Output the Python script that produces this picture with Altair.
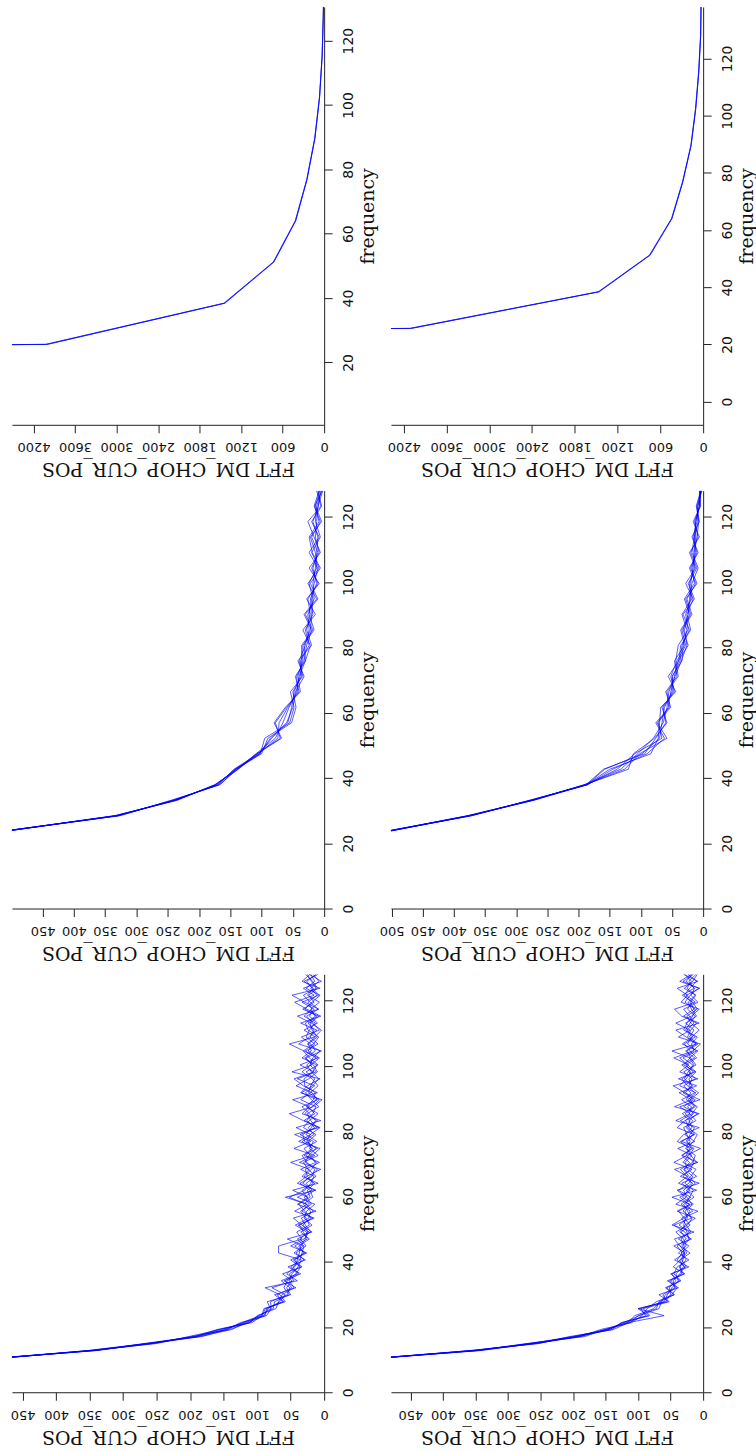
import altair as alt
import pandas as pd

# ---------------- data ----------------
ROW1_FREQ = [12.8, 25.6, 38.4, 51.2, 64.0, 76.8, 89.6, 102.4, 115.2, 128.0, 140.8]
ROW1_LEFT = [
    [90000, 4010, 1440, 730, 414, 250, 135, 67, 29, 12, 5],
    [90000, 4030, 1450, 735, 418, 252, 137, 68, 30, 13, 5],
    [90000, 3995, 1432, 726, 410, 247, 133, 65, 28, 11, 4],
]
ROW1_RIGHT = [
    [92000, 4105, 1465, 749, 440, 287, 170, 105, 62, 35, 28],
    [92000, 4120, 1472, 754, 444, 290, 172, 107, 64, 36, 29],
    [92000, 4090, 1458, 744, 437, 284, 168, 103, 60, 34, 27],
]

ROW2_FREQ = [round(k * 128 / 27, 3) for k in range(5, 28)]
ROW2_LEFT = [
    [512, 332, 238, 172, 142, 104, 84, 58, 52, 48, 38, 36, 36, 18, 30, 10, 22, 6, 19, 24, 8, 15, 3],
    [508, 328, 242, 168, 138, 108, 70, 78, 60, 40, 46, 30, 22, 34, 14, 28, 8, 24, 6, 16, 26, 5, 12],
    [511, 334, 236, 174, 140, 102, 95, 55, 48, 54, 34, 40, 30, 24, 26, 16, 18, 14, 12, 10, 18, 9, 6],
    [509, 330, 240, 170, 144, 106, 74, 72, 58, 42, 44, 32, 28, 20, 32, 12, 26, 8, 20, 6, 14, 12, 4],
    [513, 326, 244, 166, 141, 100, 90, 52, 45, 50, 36, 38, 24, 30, 18, 22, 12, 18, 10, 20, 6, 16, 8],
    [507, 335, 234, 175, 137, 107, 68, 80, 62, 38, 42, 34, 34, 16, 24, 20, 16, 10, 24, 8, 20, 4, 10],
    [510, 331, 239, 169, 143, 103, 86, 60, 50, 46, 32, 42, 20, 28, 22, 26, 10, 20, 8, 14, 12, 10, 2],
    [512, 329, 237, 173, 139, 109, 78, 66, 56, 44, 40, 30, 32, 22, 20, 18, 24, 12, 14, 22, 4, 14, 7],
]
ROW2_RIGHT = [
    [506, 372, 278, 186, 158, 98, 70, 66, 62, 50, 49, 37, 34, 22, 32, 14, 24, 10, 20, 8, 14, 5, 4],
    [503, 376, 272, 190, 120, 112, 78, 58, 66, 46, 52, 42, 28, 34, 18, 26, 12, 22, 8, 18, 6, 10, 3],
    [507, 374, 276, 185, 145, 90, 62, 76, 54, 58, 40, 44, 40, 24, 28, 20, 22, 14, 15, 12, 12, 6, 5],
    [504, 378, 273, 191, 132, 105, 80, 64, 58, 55, 45, 35, 26, 30, 22, 30, 14, 18, 12, 14, 8, 9, 2],
    [505, 371, 277, 187, 150, 84, 72, 70, 68, 44, 56, 39, 36, 20, 26, 16, 28, 12, 22, 6, 16, 4, 6],
    [506, 377, 274, 189, 126, 102, 58, 74, 52, 60, 42, 46, 30, 36, 20, 28, 10, 20, 10, 16, 10, 8, 3],
    [502, 373, 275, 188, 160, 94, 76, 60, 64, 48, 50, 34, 32, 26, 34, 18, 20, 16, 14, 10, 7, 11, 4],
    [508, 375, 271, 186, 138, 110, 66, 72, 56, 52, 46, 40, 24, 32, 24, 22, 18, 8, 18, 14, 12, 6, 5],
]

ROW3_FREQ = [round(k * 128 / 60, 3) for k in range(5, 61)]
ROW3_LEFT = [
    [474, 350, 262, 188, 150, 120, 90, 84,
     66, 58, 78, 45, 52, 36, 44, 30,
     38, 22, 35, 18, 30, 26, 14, 40,
     18, 27, 12, 24, 31, 9, 22, 16,
     36, 11, 20, 25, 8, 19, 28, 14,
     40, 12, 21, 17, 6, 25, 13, 30,
     10, 22, 15, 33, 8, 18, 26, 12],
    [470, 342, 255, 198, 142, 112, 98, 76,
     74, 52, 60, 55, 38, 47, 30, 42,
     27, 36, 24, 32, 20, 29, 38, 21,
     25, 14, 30, 19, 11, 27, 17, 33,
     15, 24, 10, 29, 18, 7, 23, 20,
     14, 27, 9, 22, 31, 16, 8, 24,
     28, 13, 20, 7, 25, 16, 30, 9],
    [476, 347, 250, 202, 155, 108, 92, 88,
     62, 70, 48, 58, 42, 35, 50, 28,
     44, 25, 31, 37, 17, 33, 22, 30,
     14, 32, 21, 10, 28, 23, 12, 26,
     21, 6, 30, 14, 25, 11, 34, 17,
     8, 19, 26, 12, 28, 9, 21, 15,
     24, 11, 29, 18, 6, 27, 14, 20],
    [468, 352, 265, 182, 145, 125, 86, 79,
     80, 55, 51, 64, 40, 50, 36, 33,
     30, 40, 20, 28, 34, 16, 27, 52,
     29, 20, 15, 35, 13, 21, 30, 11,
     27, 19, 13, 22, 33, 10, 18, 42,
     23, 10, 16, 29, 13, 20, 34, 7,
     17, 26, 9, 21, 31, 12, 19, 25],
    [473, 338, 268, 192, 160, 110, 100, 72,
     68, 63, 45, 52, 48, 39, 34, 68,
     68, 33, 41, 22, 27, 35, 19, 26,
     33, 16, 25, 28, 7, 30, 19, 24,
     12, 31, 22, 9, 27, 16, 13, 29,
     30, 17, 11, 33, 19, 24, 10, 18,
     21, 8, 32, 15, 23, 10, 17, 28],
    [471, 344, 256, 186, 138, 117, 93, 90,
     58, 66, 88, 40, 56, 44, 40, 37,
     35, 28, 26, 43, 23, 20, 31, 17,
     21, 36, 18, 14, 26, 33, 10, 29,
     32, 14, 26, 17, 12, 35, 21, 9,
     18, 33, 20, 7, 24, 14, 27, 22,
     13, 30, 18, 24, 11, 20, 8, 16],
    [469, 346, 260, 194, 146, 122, 96, 80,
     85, 50, 56, 48, 62, 33, 46, 26,
     50, 30, 22, 39, 15, 44, 25, 58,
     12, 40, 26, 5, 37, 14, 45, 20,
     44, 8, 31, 52, 16, 3, 35, 25,
     6, 48, 18, 27, 4, 38, 22, 11,
     35, 5, 26, 44, 15, 31, 4, 22],
    [475, 340, 264, 190, 157, 114, 88, 86,
     60, 74, 42, 60, 35, 54, 28, 45,
     31, 55, 18, 33, 46, 12, 40, 24,
     47, 9, 33, 22, 50, 18, 6, 38,
     20, 42, 5, 33, 22, 47, 10, 31,
     45, 15, 36, 9, 30, 52, 14, 4,
     19, 40, 8, 29, 48, 6, 33, 21],
]
ROW3_RIGHT = [
    [486, 352, 266, 200, 145, 118, 88, 96,
     60, 55, 48, 38, 42, 30, 36, 25,
     32, 20, 28, 45, 18, 24, 30, 14,
     26, 12, 22, 30, 10, 19, 25, 15,
     9, 24, 16, 28, 12, 20, 7, 22,
     17, 30, 11, 19, 25, 8, 21, 14,
     27, 10, 18, 23, 12, 29, 16, 9],
    [482, 346, 258, 188, 158, 112, 100, 72,
     68, 48, 40, 50, 30, 37, 26, 34,
     22, 38, 19, 26, 33, 16, 27, 21,
     15, 28, 19, 11, 31, 22, 14, 26,
     20, 13, 35, 17, 9, 26, 19, 30,
     12, 22, 16, 31, 10, 24, 18, 6,
     19, 25, 9, 16, 32, 14, 22, 11],
    [488, 355, 255, 195, 140, 126, 84, 100,
     55, 62, 44, 46, 36, 28, 40, 32,
     40, 26, 34, 20, 29, 38, 17, 25,
     30, 18, 25, 35, 16, 12, 27, 20,
     25, 30, 11, 21, 18, 33, 13, 24,
     33, 15, 27, 10, 20, 29, 12, 25,
     14, 21, 30, 8, 19, 13, 26, 17],
    [484, 348, 270, 182, 152, 110, 94, 86,
     72, 44, 56, 34, 45, 40, 22, 38,
     26, 30, 42, 24, 17, 31, 22, 36,
     20, 33, 10, 24, 28, 17, 39, 13,
     28, 17, 22, 9, 30, 15, 27, 18,
     22, 11, 24, 36, 14, 18, 9, 30,
     25, 16, 12, 28, 20, 7, 31, 15],
    [485, 340, 262, 192, 148, 122, 98, 68,
     64, 58, 42, 52, 33, 35, 31, 28,
     35, 22, 25, 30, 27, 20, 34, 19,
     38, 22, 16, 29, 21, 33, 18, 24,
     16, 26, 20, 32, 14, 23, 11, 36,
     26, 19, 33, 13, 27, 11, 24, 19,
     10, 30, 14, 20, 11, 25, 18, 28],
    [483, 358, 252, 205, 138, 115, 60, 100,
     58, 50, 52, 42, 48, 26, 33, 30,
     29, 34, 21, 37, 24, 28, 15, 32,
     23, 16, 31, 20, 14, 26, 21, 35,
     13, 21, 27, 15, 24, 12, 31, 16,
     29, 23, 14, 21, 8, 32, 16, 27,
     20, 12, 24, 17, 29, 21, 10, 23],
    [487, 350, 260, 198, 150, 116, 105, 76,
     66, 45, 58, 36, 50, 22, 44, 28,
     45, 18, 36, 28, 12, 40, 20, 48,
     10, 38, 24, 44, 8, 32, 16, 40,
     30, 6, 42, 20, 36, 5, 28, 46,
     8, 36, 22, 45, 16, 4, 38, 20,
     42, 18, 6, 34, 24, 40, 8, 30],
    [481, 344, 268, 190, 144, 124, 82, 92,
     52, 68, 38, 55, 28, 46, 35, 20,
     36, 44, 14, 48, 30, 8, 42, 26,
     40, 6, 35, 17, 45, 25, 4, 33,
     14, 40, 28, 6, 44, 18, 37, 10,
     38, 12, 30, 20, 48, 10, 26, 42,
     6, 33, 44, 12, 26, 5, 36, 18],
]

FFT_TICKS_BIG = [0, 600, 1200, 1800, 2400, 3000, 3600, 4200]
FFT_TICKS_450 = [0, 50, 100, 150, 200, 250, 300, 350, 400, 450]
FFT_TICKS_500 = [0, 50, 100, 150, 200, 250, 300, 350, 400, 450, 500]
FREQ_TICKS_20 = [20, 40, 60, 80, 100, 120]
FREQ_TICKS_0 = [0, 20, 40, 60, 80, 100, 120]

X_TITLE = "FFT DM_CHOP_CUR_POS"
Y_TITLE = "frequency"

W = 313
H = 419


def make_df(freq, series):
    rows = []
    for i, vals in enumerate(series):
        for f, v in zip(freq, vals):
            rows.append({"freq": f, "value": v, "series": i})
    return pd.DataFrame(rows)


def panel(freq, series, xdom, xticks, ydom, yticks):
    xaxis = alt.Axis(
        orient="bottom", values=xticks, title=X_TITLE, grid=False, format="d",
        tickSize=8, labelPadding=10, labelAngle=180, labelAlign="center",
        labelBaseline="alphabetic", labelFlush=False, labelOverlap=False,
        labelFont="DejaVu Sans", labelFontSize=13,
        titleFont="DejaVu Serif", titleFontSize=19, titleFontWeight="normal",
        titleAngle=180, titleAlign="center", titleBaseline="alphabetic",
        titleX=W / 2, titleY=38,
    )
    yaxis = alt.Axis(
        orient="right", values=yticks, title=Y_TITLE, grid=False, format="d",
        tickSize=8, labelPadding=20, labelAngle=270, labelAlign="center",
        labelBaseline="alphabetic", labelFlush=False, labelOverlap=False,
        labelFont="DejaVu Sans", labelFontSize=14,
        titleFont="DejaVu Serif", titleFontSize=19, titleFontWeight="normal",
        titleAngle=270, titleAlign="center", titleBaseline="alphabetic",
        titleX=49, titleY=H / 2,
    )
    return alt.Chart(make_df(freq, series)).mark_line(
        clip=True, color="#0000ff", strokeWidth=1, opacity=0.65
    ).encode(
        x=alt.X("value:Q", scale=alt.Scale(domain=xdom, reverse=True, nice=False, zero=False), axis=xaxis),
        y=alt.Y("freq:Q", scale=alt.Scale(domain=ydom, nice=False, zero=False), axis=yaxis),
        detail="series:N",
        order="freq:Q",
    ).properties(width=W, height=H)


p1 = panel(ROW1_FREQ, ROW1_LEFT, [0, 4512], FFT_TICKS_BIG, [0.6, 130.5], FREQ_TICKS_20)
p2 = panel(ROW1_FREQ, ROW1_RIGHT, [0, 4380], FFT_TICKS_BIG, [-8.1, 138], FREQ_TICKS_0)
p3 = panel(ROW2_FREQ, ROW2_LEFT, [0, 499], FFT_TICKS_450, [0, 128], FREQ_TICKS_0)
p4 = panel(ROW2_FREQ, ROW2_RIGHT, [0, 501], FFT_TICKS_500, [0, 128], FREQ_TICKS_0)
p5 = panel(ROW3_FREQ, ROW3_LEFT, [0, 466], FFT_TICKS_450, [0, 128], FREQ_TICKS_0)
p6 = panel(ROW3_FREQ, ROW3_RIGHT, [0, 480], FFT_TICKS_450, [0, 128], FREQ_TICKS_0)

chart = alt.concat(
    p1, p2, p3, p4, p5, p6, columns=2,
    spacing={"row": 66, "column": 67}, bounds="flush",
).properties(
    padding={"left": 10, "top": 5, "right": 0, "bottom": 12},
).configure_view(
    strokeWidth=0
).configure_axis(
    domainColor="#222222", tickColor="#222222", labelColor="#111111",
    titleColor="#111111", domainWidth=1, tickWidth=1,
)

chart.save("out.html", embed_options={"renderer": "svg", "actions": False})
